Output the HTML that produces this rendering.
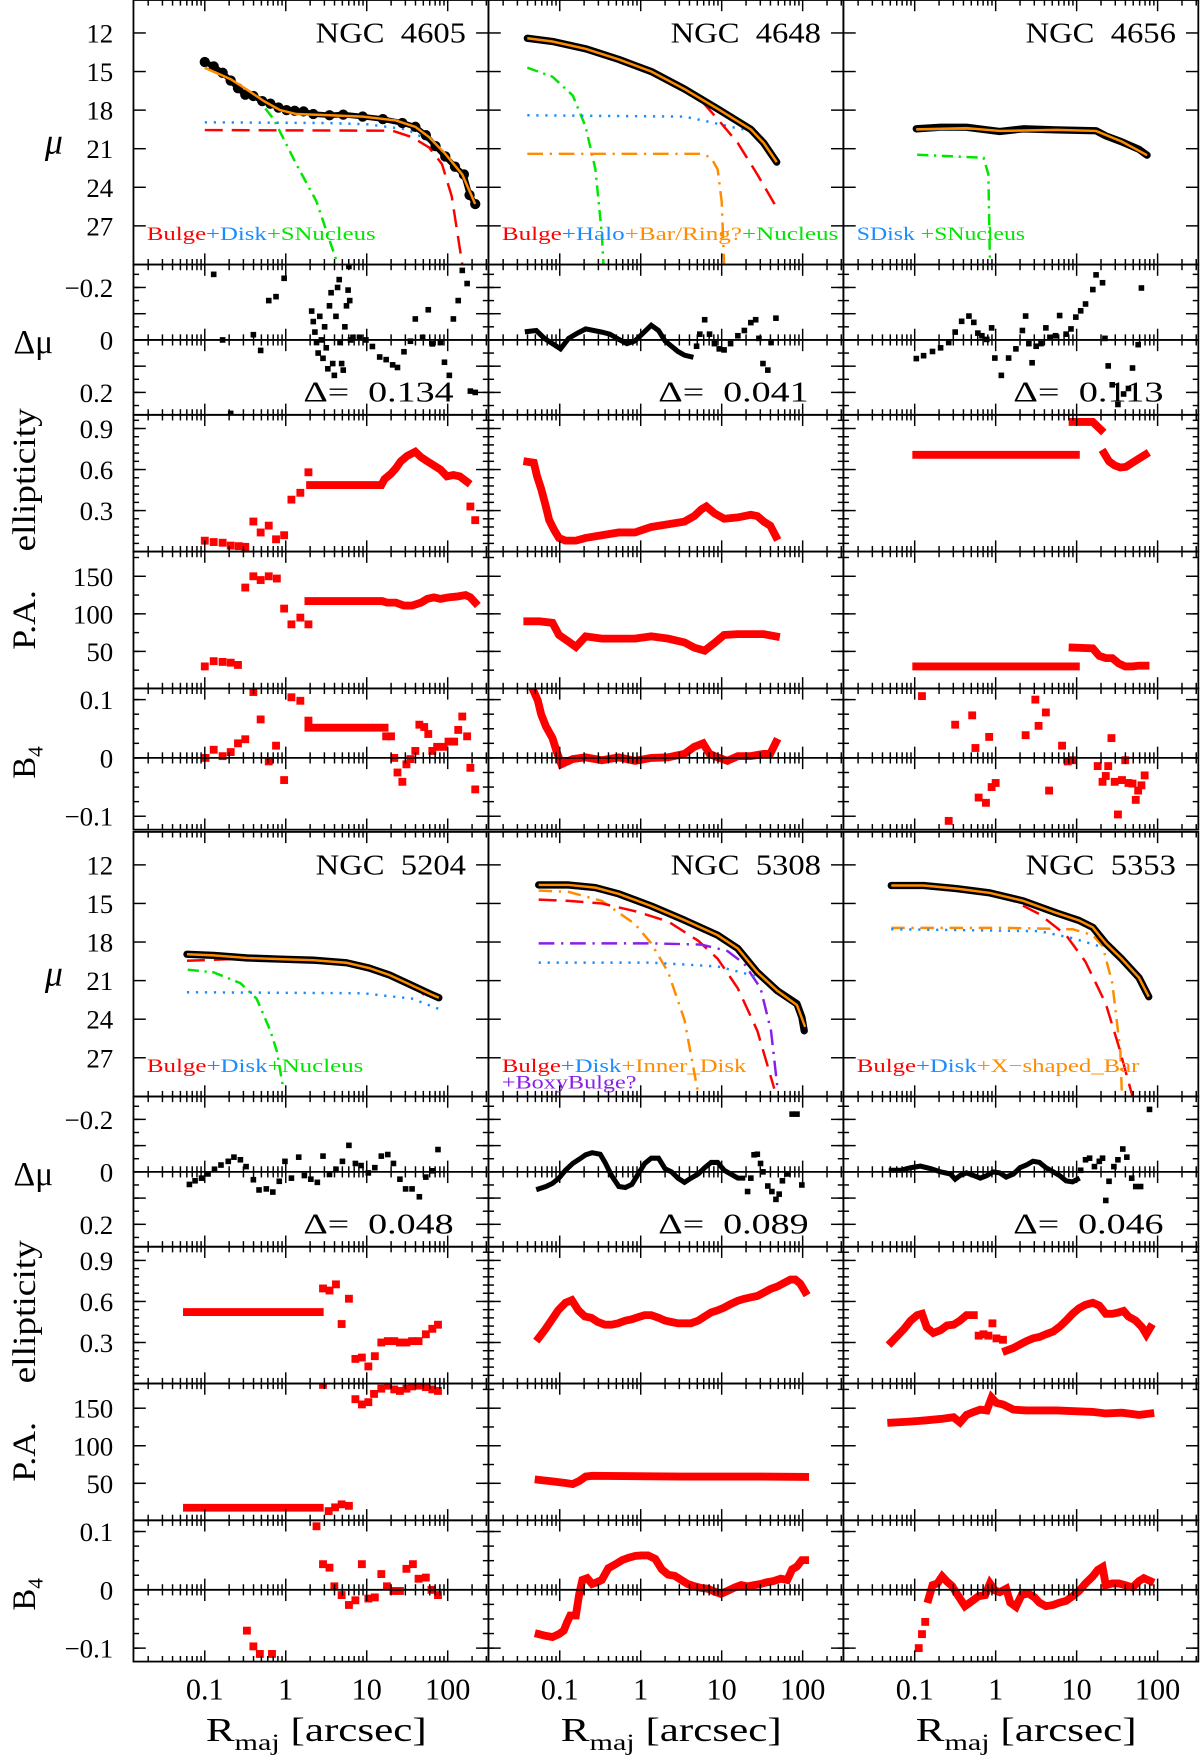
<!DOCTYPE html>
<html><head><meta charset="utf-8"><style>
html,body{margin:0;padding:0;background:#fff}
svg{display:block}
text{font-family:"Liberation Serif",serif;fill:#000}
</style></head><body>
<svg id="fig" xmlns="http://www.w3.org/2000/svg" width="1200" height="1758" viewBox="0 0 1070 1568" preserveAspectRatio="none"></svg>
<script>
// ---------- tick labels ----------
const muTicks=[12,15,18,21,24,27];
const dmuTicks=[-0.2,0,0.2];
const ellTicks=[0.3,0.6,0.9];
const paTicks=[50,100,150];
const b4Ticks=[-0.1,0,0.1];
const xTickLabels=["0.1","1","10","100"];
const xTickLogs=[-1,0,1,2];
const galaxyNames=["NGC 4605","NGC 4648","NGC 4656","NGC 5204","NGC 5308","NGC 5353"];
const deltaValues=["0.134","0.041","0.113","0.048","0.089","0.046"];

// ---------- data: [log10 R, value] ----------
const g1Mu=[[-1,14.26],[-0.89,14.6],[-0.78,15.1],[-0.68,15.7],[-0.59,16.3],[-0.5,16.8],[-0.4,16.9],[-0.29,17.3],[-0.19,17.5],[-0.09,17.8],[0.01,18.0],[0.11,18.05],[0.22,18.1],[0.34,18.3],[0.54,18.4],[0.71,18.35],[0.95,18.5],[1.2,18.7],[1.44,19.0],[1.6,19.3],[1.73,19.95],[1.85,20.8],[1.97,21.6],[2.09,22.4],[2.2,23.0],[2.27,24.6],[2.34,25.3]];
const g1Fit=[[-1,14.7],[-0.68,15.6],[-0.48,16.4],[-0.27,17.3],[-0.07,18.0],[0.13,18.3],[0.54,18.4],[0.95,18.5],[1.36,18.8],[1.6,19.3],[1.77,20.1],[1.97,21.4],[2.18,23.0],[2.34,25.3]];
const g1Disk=[[-1,18.95],[0.5,19.0],[1.0,19.1],[1.5,19.5],[1.8,20.5],[2.0,21.6],[2.2,22.9]];
const g1Bulge=[[-1,19.55],[1.32,19.6],[1.56,20.1],[1.77,20.9],[1.93,22.2],[2.05,24.7],[2.18,30]];
const g1Nuc=[[-1,14.7],[-0.68,15.6],[-0.35,17.1],[-0.15,18.7],[0.13,22.2],[0.38,25.1],[0.62,29.6]];
const g1Dmu=[[-0.89,-0.25],[-0.78,0.0],[-0.4,-0.02],[-0.31,0.04],[-0.21,-0.15],[-0.12,-0.165],[-0.02,-0.235],[-0.68,0.28],[0.32,-0.11],[0.34,-0.07],[0.36,-0.03],[0.38,0.01],[0.4,0.05],[0.42,-0.09],[0.44,0],[0.46,0.07],[0.48,-0.05],[0.5,0.03],[0.52,0.11],[0.54,-0.13],[0.56,-0.18],[0.58,0.09],[0.6,0.135],[0.62,-0.09],[0.64,-0.2],[0.66,-0.23],[0.67,0.01],[0.69,0.09],[0.71,0.115],[0.73,-0.05],[0.75,-0.13],[0.77,-0.19],[0.78,-0.28],[0.79,-0.15],[0.8,0],[0.83,-0.01],[0.91,-0.01],[0.99,0],[1.07,0.025],[1.16,0.065],[1.24,0.075],[1.32,0.095],[1.38,0.105],[1.46,0.045],[1.54,0.005],[1.6,-0.08],[1.69,-0.01],[1.76,-0.115],[1.81,0.015],[1.91,0.01],[1.96,0.085],[2.02,0.135],[2.07,-0.08],[2.13,-0.15],[2.18,-0.265],[2.24,-0.215],[2.28,0.195],[2.34,0.2]];
const g1EllPts=[[-1,0.08],[-0.89,0.07],[-0.78,0.065],[-0.68,0.044],[-0.58,0.04],[-0.5,0.035],[-0.4,0.22],[-0.31,0.14],[-0.21,0.19],[-0.12,0.09],[-0.02,0.12],[0.07,0.38],[0.18,0.43],[0.28,0.58],[2.28,0.33],[2.34,0.23]];
const g1EllLine=[[0.3,0.487],[1.18,0.487],[1.22,0.53],[1.3,0.57],[1.36,0.61],[1.42,0.66],[1.5,0.70],[1.6,0.73],[1.67,0.69],[1.75,0.66],[1.83,0.63],[1.91,0.60],[1.99,0.55],[2.07,0.56],[2.15,0.55],[2.24,0.51]];
const g1PaPts=[[-1,30],[-0.89,37],[-0.78,36],[-0.68,35],[-0.59,32],[-0.5,135],[-0.4,150],[-0.31,145],[-0.21,150],[-0.11,147],[-0.02,107],[0.07,86],[0.18,95],[0.28,86]];
const g1PaLine=[[0.28,117],[1.19,117],[1.25,115],[1.36,115],[1.46,111],[1.56,111],[1.67,115],[1.75,120],[1.83,122],[1.91,120],[2.01,122],[2.11,123],[2.22,125],[2.28,122],[2.34,115]];
const g1B4Pts=[[-0.99,0],[-0.89,0.014],[-0.78,0.003],[-0.68,0.01],[-0.59,0.025],[-0.5,0.032],[-0.4,0.113],[-0.31,0.066],[-0.21,-0.006],[-0.12,0.021],[-0.02,-0.038],[0.07,0.104],[0.18,0.098],[0.28,0.064],[1.24,0.037],[1.3,0.037],[1.34,0],[1.38,-0.025],[1.44,-0.041],[1.49,-0.011],[1.54,-0.002],[1.6,0.012],[1.65,0.057],[1.71,0.053],[1.76,0.041],[1.81,0.012],[1.87,0.019],[1.95,0.019],[2.01,0.028],[2.08,0.028],[2.13,0.048],[2.18,0.071],[2.24,0.037],[2.28,-0.017],[2.34,-0.054]];
const g1B4Line=[[0.28,0.052],[1.22,0.052]];

const g2Mu=[[-1.4,12.41],[-1.09,12.66],[-0.68,13.23],[-0.27,14.06],[0.13,15.0],[0.54,16.36],[0.95,17.9],[1.36,19.5],[1.52,20.56],[1.68,22.04]];
const g2Bulge=[[-1.4,12.45],[-0.68,13.25],[0.13,15.0],[0.71,17.0],[0.95,18.7],[1.2,20.56],[1.44,23.0],[1.68,25.6]];
const g2Halo=[[-1.4,18.4],[0.54,18.5],[0.91,19.0],[1.11,19.3],[1.36,19.6]];
const g2Bar=[[-1.4,21.4],[0.75,21.4],[0.87,21.7],[0.95,22.6],[1.0,25.1],[1.03,30]];
const g2Nuc=[[-1.4,14.7],[-1.09,15.4],[-0.84,16.86],[-0.68,19.3],[-0.56,22.6],[-0.48,27.6],[-0.46,30]];
const g2DmuLine=[[-1.4,-0.032],[-1.29,-0.036],[-1.19,-0.006],[-1.09,0.014],[-0.99,0.034],[-0.89,-0.006],[-0.78,-0.026],[-0.68,-0.042],[-0.58,-0.036],[-0.48,-0.03],[-0.38,-0.022],[-0.27,-0.002],[-0.17,0.014],[-0.07,0.004],[0.03,-0.026],[0.13,-0.056],[0.22,-0.036],[0.3,0.004],[0.38,0.024],[0.46,0.044],[0.54,0.058],[0.62,0.064]];
const g2DmuPts=[[0.69,0.024],[0.73,-0.022],[0.79,-0.077],[0.85,-0.022],[0.91,0.014],[0.97,0.034],[1.03,0.038],[1.11,0.014],[1.2,-0.016],[1.28,-0.036],[1.36,-0.066],[1.42,-0.077],[1.46,-0.006],[1.51,0.09],[1.57,0.115],[1.61,0.01],[1.67,-0.083]];
const g2EllLine=[[-1.4,0.657],[-1.32,0.65],[-1.28,0.55],[-1.23,0.46],[-1.18,0.35],[-1.13,0.23],[-1.07,0.16],[-1.01,0.10],[-0.93,0.08],[-0.8,0.08],[-0.68,0.1],[-0.48,0.12],[-0.27,0.14],[-0.07,0.14],[0.13,0.18],[0.34,0.2],[0.54,0.22],[0.66,0.26],[0.75,0.31],[0.81,0.33],[0.91,0.28],[1.03,0.24],[1.2,0.25],[1.36,0.27],[1.44,0.26],[1.52,0.22],[1.6,0.19],[1.67,0.11]];
const g2PaLine=[[-1.4,90],[-1.25,90],[-1.09,88],[-1.01,72],[-0.89,63],[-0.8,56],[-0.68,70],[-0.48,67],[-0.27,67],[-0.07,67],[0.13,70],[0.34,67],[0.54,62],[0.66,55],[0.79,51],[0.91,61],[1.03,72],[1.2,73],[1.36,73],[1.52,73],[1.67,70]];
const g2B4Line=[[-1.34,0.12],[-1.27,0.098],[-1.23,0.075],[-1.17,0.054],[-1.09,0.034],[-1.04,0.012],[-0.98,-0.011],[-0.84,-0.002],[-0.68,0.001],[-0.48,-0.004],[-0.27,0.001],[-0.07,-0.005],[0.13,0],[0.34,0.001],[0.54,0.007],[0.66,0.019],[0.77,0.025],[0.85,0.007],[0.95,0.001],[1.07,-0.005],[1.2,0.003],[1.36,0.003],[1.52,0.007],[1.6,0.007],[1.67,0.027]];

const g3Mu=[[-0.98,19.45],[-0.68,19.33],[-0.36,19.33],[0.05,19.66],[0.34,19.45],[0.75,19.53],[1.24,19.6],[1.36,20.0],[1.56,20.47],[1.77,21.05],[1.87,21.5]];
const g3Fit=[[-0.98,19.5],[-0.36,19.4],[0.05,19.62],[0.75,19.53],[1.24,19.62],[1.56,20.45],[1.87,21.5]];
const g3SDisk=[[-0.98,19.5],[-0.27,19.45]];
const g3Nuc=[[-0.97,21.47],[-0.15,21.7],[-0.09,23.0],[-0.07,30]];
const g3Dmu=[[-0.98,0.071],[-0.89,0.06],[-0.78,0.044],[-0.68,0.03],[-0.58,0.01],[-0.5,-0.03],[-0.42,-0.071],[-0.33,-0.091],[-0.27,-0.067],[-0.22,-0.026],[-0.17,-0.016],[-0.11,-0.002],[-0.05,-0.046],[-0.01,0.069],[0.07,0.135],[0.16,0.069],[0.25,0.034],[0.33,-0.036],[0.37,-0.091],[0.41,0.014],[0.45,0.087],[0.5,0.024],[0.56,0.014],[0.62,-0.046],[0.67,-0.01],[0.74,-0.016],[0.79,-0.093],[0.87,-0.022],[0.93,-0.042],[0.99,-0.087],[1.05,-0.111],[1.11,-0.137],[1.2,-0.192],[1.24,-0.248],[1.32,-0.218],[1.35,-0.006],[1.39,0.099],[1.44,0.171],[1.51,0.246],[1.58,0.206],[1.64,0.185],[1.69,0.107],[1.76,0.018],[1.8,-0.198]];
const g3EllLineA=[[-0.98,0.707],[0.99,0.707]];
const g3EllLineB=[[0.95,0.948],[1.2,0.948],[1.3,0.89]];
const g3EllLineC=[[1.34,0.72],[1.4,0.66],[1.47,0.63],[1.54,0.615],[1.61,0.62],[1.69,0.65],[1.77,0.68],[1.85,0.71]];
const g3PaLineA=[[-0.98,30],[0.99,30]];
const g3PaLineB=[[0.95,55],[1.2,54],[1.28,44],[1.36,41],[1.44,41],[1.52,34],[1.6,30],[1.69,30],[1.77,31],[1.85,31]];
const g3B4Pts=[[-0.91,0.106],[-0.5,0.057],[-0.29,0.073],[-0.25,0.017],[-0.21,-0.068],[-0.12,-0.077],[-0.08,0.036],[-0.05,-0.05],[0,-0.043],[-0.58,-0.108],[0.37,0.039],[0.49,0.1],[0.53,0.055],[0.62,0.078],[0.66,-0.056],[0.82,0.021],[0.89,-0.006],[0.95,-0.004],[1.26,-0.014],[1.32,-0.041],[1.36,-0.031],[1.39,-0.014],[1.43,0.034],[1.47,-0.041],[1.51,-0.097],[1.56,-0.038],[1.6,-0.004],[1.64,-0.043],[1.69,-0.044],[1.73,-0.072],[1.76,-0.056],[1.8,-0.047],[1.84,-0.03]];

const g4Mu=[[-1.22,18.95],[-0.89,19.04],[-0.48,19.24],[-0.07,19.33],[0.34,19.41],[0.75,19.61],[1.03,20.02],[1.28,20.56],[1.52,21.26],[1.77,22.0],[1.89,22.33]];
const g4Bulge=[[-1.22,19.45],[-0.68,19.33],[0.13,19.45],[0.95,19.86],[1.36,20.56],[1.71,22.1]];
const g4Disk=[[-1.22,21.9],[0.95,21.98],[1.56,22.4],[1.89,23.2]];
const g4Nuc=[[-1.21,20.15],[-0.89,20.36],[-0.56,21.2],[-0.36,22.4],[-0.19,24.9],[-0.11,26.5],[-0.03,29.4]];
const g4Dmu=[[-1.19,0.048],[-1.12,0.034],[-1.04,0.024],[-0.96,0.008],[-0.88,-0.01],[-0.8,-0.026],[-0.71,-0.04],[-0.64,-0.056],[-0.56,-0.046],[-0.49,-0.02],[-0.4,0.03],[-0.33,0.069],[-0.24,0.065],[-0.16,0.077],[-0.08,0.036],[-0.01,-0.04],[0.07,0.024],[0.16,-0.056],[0.23,0.014],[0.31,0.028],[0.39,0.04],[0.46,-0.06],[0.54,0.01],[0.62,-0.01],[0.7,-0.04],[0.78,-0.101],[0.86,-0.032],[0.93,-0.024],[1.02,0.004],[1.1,-0.016],[1.18,-0.06],[1.26,-0.066],[1.33,-0.032],[1.41,0.028],[1.48,0.065],[1.56,0.065],[1.65,0.095],[1.73,0.02],[1.81,-0.004],[1.88,-0.085]];
const g4EllLine=[[-1.22,0.522],[0.42,0.522]];
const g4EllPts=[[0.46,0.695],[0.54,0.68],[0.62,0.725],[0.69,0.435],[0.78,0.62],[0.86,0.18],[0.94,0.19],[1.02,0.125],[1.1,0.2],[1.18,0.3],[1.26,0.31],[1.34,0.31],[1.41,0.3],[1.49,0.3],[1.56,0.31],[1.64,0.31],[1.73,0.36],[1.81,0.4],[1.88,0.43]];
const g4PaLine=[[-1.22,17.5],[0.42,17.5]];
const g4PaPts=[[0.46,181],[0.53,13],[0.61,18],[0.69,22],[0.78,20],[0.86,162],[0.94,155],[1.02,158],[1.09,169],[1.18,176],[1.26,180],[1.34,175],[1.41,173],[1.49,176],[1.56,179],[1.64,180],[1.73,178],[1.81,175],[1.88,173]];
const g4B4Pts=[[0.38,0.109],[-0.48,-0.07],[-0.4,-0.097],[-0.32,-0.11],[-0.17,-0.11],[0.46,0.044],[0.54,0.038],[0.6,0.006],[0.69,-0.009],[0.78,-0.026],[0.86,-0.018],[0.94,0.044],[1.02,-0.015],[1.1,-0.013],[1.18,0.027],[1.25,0.006],[1.33,-0.002],[1.41,-0.002],[1.49,0.036],[1.57,0.044],[1.64,0.019],[1.73,0.021],[1.8,0],[1.88,-0.009]];

const g5Mu=[[-1.26,13.56],[-0.89,13.56],[-0.56,13.77],[-0.27,14.26],[0.13,15.2],[0.54,16.3],[0.95,17.47],[1.2,18.5],[1.44,20.35],[1.69,21.8],[1.93,22.8],[1.99,23.85],[2.02,24.9]];
const g5Fit=[[-1.26,13.56],[-0.89,13.56],[-0.56,13.77],[-0.27,14.26],[0.13,15.2],[0.54,16.3],[0.95,17.47],[1.2,18.5],[1.44,20.35],[1.69,21.8],[1.93,22.9],[2.03,24.6]];
const g5Bulge=[[-1.26,14.7],[-0.89,14.8],[-0.48,15.0],[-0.07,15.6],[0.34,16.4],[0.71,17.9],[0.95,19.3],[1.2,21.6],[1.44,24.9],[1.65,29.4]];
const g5Inner=[[-1.26,14.0],[-0.89,14.1],[-0.48,14.8],[-0.07,16.6],[0.13,18.1],[0.34,20.35],[0.54,24.05],[0.71,29.8]];
const g5Boxy=[[-1.26,18.1],[0.13,18.1],[0.75,18.2],[1.07,18.7],[1.28,19.7],[1.48,21.6],[1.61,24.9],[1.69,29.4]];
const g5Disk=[[-1.26,19.6],[0.13,19.6],[0.95,19.9],[1.36,20.55],[1.48,20.85]];
const g5DmuLine=[[-1.26,0.065],[-1.17,0.056],[-1.09,0.044],[-1.01,0.024],[-0.93,-0.006],[-0.84,-0.032],[-0.76,-0.048],[-0.68,-0.065],[-0.6,-0.073],[-0.5,-0.067],[-0.44,-0.036],[-0.36,0.014],[-0.27,0.056],[-0.19,0.06],[-0.11,0.048],[-0.03,0.008],[0.05,-0.032],[0.13,-0.052],[0.22,-0.052],[0.3,-0.012],[0.38,0],[0.46,0.024],[0.54,0.04],[0.62,0.024],[0.71,0.008],[0.79,-0.016],[0.87,-0.036],[0.95,-0.036],[1.03,-0.006],[1.11,0.008],[1.2,0.024],[1.26,0.024]];
const g5DmuPts=[[1.32,0.075],[1.36,0.024],[1.4,-0.065],[1.44,-0.067],[1.48,-0.032],[1.51,0],[1.57,0.054],[1.62,0.075],[1.67,0.105],[1.71,0.085],[1.75,0.034],[1.81,0.008],[1.87,-0.22],[1.93,-0.22],[1.99,0.05]];
const g5EllLine=[[-1.26,0.333],[-1.18,0.395],[-1.1,0.465],[-1.02,0.535],[-0.93,0.59],[-0.85,0.61],[-0.77,0.535],[-0.69,0.49],[-0.61,0.48],[-0.53,0.45],[-0.44,0.43],[-0.36,0.43],[-0.28,0.44],[-0.19,0.46],[-0.11,0.47],[-0.03,0.485],[0.05,0.5],[0.13,0.5],[0.22,0.48],[0.3,0.46],[0.38,0.45],[0.46,0.44],[0.54,0.44],[0.62,0.44],[0.71,0.46],[0.79,0.49],[0.87,0.52],[0.95,0.535],[1.03,0.555],[1.11,0.58],[1.2,0.605],[1.28,0.62],[1.36,0.63],[1.44,0.64],[1.52,0.665],[1.6,0.69],[1.69,0.71],[1.77,0.735],[1.85,0.76],[1.91,0.76],[1.97,0.73],[2.03,0.67]];
const g5PaLine=[[-1.26,54.7],[-1.09,52.6],[-0.93,50.5],[-0.84,49],[-0.76,53],[-0.68,59],[-0.6,60],[0.5,59],[1.5,59],[2.03,58.5]];
const g5B4Line=[[-1.26,-0.076],[-1.17,-0.079],[-1.09,-0.081],[-1.01,-0.076],[-0.95,-0.07],[-0.91,-0.056],[-0.87,-0.044],[-0.8,-0.044],[-0.76,-0.008],[-0.72,0.017],[-0.66,0.02],[-0.6,0.01],[-0.54,0.013],[-0.48,0.017],[-0.4,0.037],[-0.31,0.044],[-0.23,0.051],[-0.15,0.055],[-0.07,0.058],[0.01,0.059],[0.09,0.059],[0.18,0.053],[0.26,0.035],[0.34,0.026],[0.42,0.024],[0.5,0.017],[0.58,0.01],[0.67,0.006],[0.75,0.003],[0.83,0.002],[0.91,-0.003],[0.99,-0.007],[1.07,-0.002],[1.16,0.004],[1.24,0.008],[1.32,0.006],[1.4,0.008],[1.48,0.01],[1.56,0.013],[1.64,0.015],[1.73,0.019],[1.81,0.017],[1.87,0.035],[1.93,0.04],[1.99,0.051],[2.03,0.051]];

const g6Mu=[[-1.29,13.6],[-0.89,13.6],[-0.48,13.85],[-0.07,14.18],[0.34,14.8],[0.75,15.74],[1.03,16.32],[1.2,16.86],[1.36,18.1],[1.56,19.33],[1.77,20.77],[1.89,22.25]];
const g6Bulge=[[-1.29,13.6],[-0.27,13.98],[0.13,14.51],[0.54,15.83],[0.87,17.47],[1.11,19.53],[1.36,22.8],[1.52,26.1],[1.69,30]];
const g6Bar=[[-1.29,16.9],[0.13,16.9],[0.95,17.0],[1.2,17.47],[1.32,18.3],[1.44,21.2],[1.54,26.5],[1.56,30]];
const g6Disk=[[-1.29,17.0],[0.54,17.15],[0.95,17.7],[1.32,18.4]];
const g6DmuLine=[[-1.29,-0.006],[-1.17,-0.006],[-1.05,-0.016],[-0.93,-0.022],[-0.8,-0.012],[-0.68,0],[-0.56,0.008],[-0.5,0.028],[-0.44,0.014],[-0.36,0.004],[-0.27,0.014],[-0.19,0.024],[-0.11,0.014],[-0.03,0],[0.05,0.004],[0.13,0.02],[0.22,0.008],[0.3,-0.016],[0.38,-0.026],[0.46,-0.04],[0.54,-0.036],[0.62,-0.016],[0.71,0],[0.79,0.014],[0.87,0.034],[0.95,0.038],[1.01,0.028]];
const g6DmuPts=[[1.05,-0.006],[1.11,-0.046],[1.16,-0.052],[1.22,-0.02],[1.28,-0.04],[1.32,-0.052],[1.36,0.109],[1.4,0.036],[1.46,-0.02],[1.51,-0.046],[1.57,-0.087],[1.62,-0.056],[1.68,0.024],[1.73,0.056],[1.79,0.056],[1.9,-0.238]];
const g6EllLineA=[[-1.29,0.302],[-1.21,0.35],[-1.13,0.4],[-1.05,0.46],[-0.97,0.5],[-0.91,0.51],[-0.85,0.41],[-0.77,0.37],[-0.68,0.39],[-0.6,0.425],[-0.52,0.43],[-0.44,0.46],[-0.36,0.5],[-0.27,0.5]];
const g6EllPts=[[-0.21,0.35],[-0.15,0.36],[-0.09,0.35],[-0.04,0.44],[0.01,0.33],[0.09,0.32]];
const g6EllLineB=[[0.13,0.24],[0.22,0.26],[0.3,0.285],[0.38,0.31],[0.46,0.33],[0.54,0.34],[0.62,0.36],[0.71,0.38],[0.79,0.415],[0.87,0.46],[0.95,0.51],[1.03,0.55],[1.11,0.575],[1.2,0.59],[1.28,0.57],[1.36,0.51],[1.44,0.51],[1.52,0.52],[1.58,0.53],[1.64,0.49],[1.73,0.46],[1.81,0.41],[1.86,0.36],[1.91,0.41]];
const g6PaLine=[[-1.29,130.8],[-1.09,132],[-0.89,133.6],[-0.68,135.7],[-0.52,137.9],[-0.44,131],[-0.36,141],[-0.27,145],[-0.19,148],[-0.11,147],[-0.05,164],[0.01,157],[0.09,155],[0.22,148],[0.38,147],[0.75,147],[1.2,145],[1.36,143],[1.56,144],[1.77,141],[1.91,143]];
const g6B4Pts=[[-0.95,-0.1],[-0.91,-0.076],[-0.87,-0.055]];
const g6B4Line=[[-0.83,-0.016],[-0.78,0.008],[-0.72,0.011],[-0.66,0.023],[-0.6,0.014],[-0.54,0.007],[-0.46,-0.011],[-0.38,-0.028],[-0.29,-0.019],[-0.21,-0.011],[-0.13,-0.009],[-0.07,0.011],[-0.01,-0.001],[0.05,-0.004],[0.13,0.002],[0.18,-0.022],[0.25,-0.029],[0.32,-0.009],[0.4,-0.006],[0.48,-0.013],[0.54,-0.022],[0.62,-0.028],[0.71,-0.026],[0.79,-0.022],[0.87,-0.019],[0.95,-0.011],[1.03,-0.002],[1.11,0.011],[1.2,0.023],[1.26,0.034],[1.32,0.039],[1.36,0.008],[1.44,0.011],[1.52,0.011],[1.6,0.008],[1.69,0.004],[1.77,0.015],[1.83,0.02],[1.91,0.015]];

// ---------- layout (viewBox units) ----------
const NS="http://www.w3.org/2000/svg";
const svg=document.getElementById('fig');
const COLX=[119,435.5,752];
const COLW=316.5;
const BLOCKY=[0,742];
const ROWS={mu:[0,236],dmu:[236,370],ell:[370,492],pa:[492,614],b4:[614,740]};
const LRMIN=-1.88, LRMAX=2.51;
function xOf(c,lr){return COLX[c]+63.6+72.2*(lr+1);}
function yOf(b,p,v){
  const o=BLOCKY[b];
  if(p==='mu')return o+29.4+(v-12)*11.47;
  if(p==='dmu')return o+303.2+v*234;
  if(p==='ell')return o+492-v*122;
  if(p==='pa')return o+614.5-v*0.67;
  return o+676-v*520;
}
function el(tag,attrs,parent){const e=document.createElementNS(NS,tag);for(const k in attrs)e.setAttribute(k,attrs[k]);(parent||svg).appendChild(e);return e;}

const COLORS={red:"#ff0000",blue:"#1a8cff",orange:"#ff8c00",green:"#00e600",purple:"#8a1ee6",black:"#000"};

const defs=el('defs',{});
for(let b=0;b<2;b++)for(let c=0;c<3;c++)for(const p in ROWS){
  const cp=el('clipPath',{id:`clip-${b}-${c}-${p}`},defs);
  el('rect',{x:COLX[c],y:BLOCKY[b]+ROWS[p][0],width:COLW,height:ROWS[p][1]-ROWS[p][0]},cp);
}

const series=[
 [0,0,'mu',g1Nuc,'curve','green','10,5,2,5','nucleus-component'],
 [0,0,'mu',g1Bulge,'curve','red','16,8','bulge-component'],
 [0,0,'mu',g1Disk,'curve','blue','2,6','disk-component'],
 [0,0,'mu',g1Mu,'data','black',null,'surface-brightness-data'],
 [0,0,'mu',g1Fit,'curve','orange',null,'total-fit'],
 [0,0,'dmu',g1Dmu,'bpts','black',null,'residual-points'],
 [0,0,'ell',g1EllPts,'rpts','red',null,'ellipticity-points'],
 [0,0,'ell',g1EllLine,'rline','red',null,'ellipticity-profile'],
 [0,0,'pa',g1PaPts,'rpts','red',null,'pa-points'],
 [0,0,'pa',g1PaLine,'rline','red',null,'pa-profile'],
 [0,0,'b4',g1B4Pts,'rpts','red',null,'b4-points'],
 [0,0,'b4',g1B4Line,'rline','red',null,'b4-profile'],

 [0,1,'mu',g2Nuc,'curve','green','10,5,2,5','nucleus-component'],
 [0,1,'mu',g2Bar,'curve','orange','14,6,2,6','bar-ring-component'],
 [0,1,'mu',g2Halo,'curve','blue','2,6','halo-component'],
 [0,1,'mu',g2Bulge,'curve','red','16,8','bulge-component'],
 [0,1,'mu',g2Mu,'dataline','black',null,'surface-brightness-data'],
 [0,1,'mu',g2Mu,'curve','orange',null,'total-fit'],
 [0,1,'dmu',g2DmuLine,'bline','black',null,'residual-profile'],
 [0,1,'dmu',g2DmuPts,'bpts','black',null,'residual-points'],
 [0,1,'ell',g2EllLine,'rline','red',null,'ellipticity-profile'],
 [0,1,'pa',g2PaLine,'rline','red',null,'pa-profile'],
 [0,1,'b4',g2B4Line,'rline','red',null,'b4-profile'],

 [0,2,'mu',g3Nuc,'curve','green','10,5,2,5','nucleus-component'],
 [0,2,'mu',g3Mu,'dataline','black',null,'surface-brightness-data'],
 [0,2,'mu',g3SDisk,'curve','blue',null,'sdisk-component'],
 [0,2,'mu',g3Fit,'curve','orange',null,'total-fit'],
 [0,2,'dmu',g3Dmu,'bpts','black',null,'residual-points'],
 [0,2,'ell',g3EllLineA,'rline','red',null,'ellipticity-profile-inner'],
 [0,2,'ell',g3EllLineB,'rline','red',null,'ellipticity-profile-mid'],
 [0,2,'ell',g3EllLineC,'rline','red',null,'ellipticity-profile-outer'],
 [0,2,'pa',g3PaLineA,'rline','red',null,'pa-profile-inner'],
 [0,2,'pa',g3PaLineB,'rline','red',null,'pa-profile-outer'],
 [0,2,'b4',g3B4Pts,'rpts','red',null,'b4-points'],

 [1,0,'mu',g4Nuc,'curve','green','10,5,2,5','nucleus-component'],
 [1,0,'mu',g4Disk,'curve','blue','2,6','disk-component'],
 [1,0,'mu',g4Bulge,'curve','red','16,8','bulge-component'],
 [1,0,'mu',g4Mu,'dataline','black',null,'surface-brightness-data'],
 [1,0,'mu',g4Mu,'curve','orange',null,'total-fit'],
 [1,0,'dmu',g4Dmu,'bpts','black',null,'residual-points'],
 [1,0,'ell',g4EllLine,'rline','red',null,'ellipticity-profile'],
 [1,0,'ell',g4EllPts,'rpts','red',null,'ellipticity-points'],
 [1,0,'pa',g4PaLine,'rline','red',null,'pa-profile'],
 [1,0,'pa',g4PaPts,'rpts','red',null,'pa-points'],
 [1,0,'b4',g4B4Pts,'rpts','red',null,'b4-points'],

 [1,1,'mu',g5Inner,'curve','orange','12,6,2,6','inner-disk-component'],
 [1,1,'mu',g5Bulge,'curve','red','16,8','bulge-component'],
 [1,1,'mu',g5Boxy,'curve','purple','14,6,2,6','boxy-bulge-component'],
 [1,1,'mu',g5Disk,'curve','blue','2,6','disk-component'],
 [1,1,'mu',g5Mu,'dataline','black',null,'surface-brightness-data'],
 [1,1,'mu',g5Fit,'curve','orange',null,'total-fit'],
 [1,1,'dmu',g5DmuLine,'bline','black',null,'residual-profile'],
 [1,1,'dmu',g5DmuPts,'bpts','black',null,'residual-points'],
 [1,1,'ell',g5EllLine,'rline','red',null,'ellipticity-profile'],
 [1,1,'pa',g5PaLine,'rline','red',null,'pa-profile'],
 [1,1,'b4',g5B4Line,'rline','red',null,'b4-profile'],

 [1,2,'mu',g6Bar,'curve','orange','12,6,2,6','x-bar-component'],
 [1,2,'mu',g6Bulge,'curve','red','16,8','bulge-component'],
 [1,2,'mu',g6Disk,'curve','blue','2,6','disk-component'],
 [1,2,'mu',g6Mu,'dataline','black',null,'surface-brightness-data'],
 [1,2,'mu',g6Mu,'curve','orange',null,'total-fit'],
 [1,2,'dmu',g6DmuLine,'bline','black',null,'residual-profile'],
 [1,2,'dmu',g6DmuPts,'bpts','black',null,'residual-points'],
 [1,2,'ell',g6EllLineA,'rline','red',null,'ellipticity-profile-inner'],
 [1,2,'ell',g6EllPts,'rpts','red',null,'ellipticity-points'],
 [1,2,'ell',g6EllLineB,'rline','red',null,'ellipticity-profile-outer'],
 [1,2,'pa',g6PaLine,'rline','red',null,'pa-profile'],
 [1,2,'b4',g6B4Pts,'rpts','red',null,'b4-points'],
 [1,2,'b4',g6B4Line,'rline','red',null,'b4-profile']
];

for(const s of series){
  const [b,c,p,data,kind,color,dash,name]=s;
  const g=el('g',{'clip-path':`url(#clip-${b}-${c}-${p})`});
  
  
  const pts=data.map(d=>[xOf(c,d[0]),yOf(b,p,d[1])]);
  const ptsStr=pts.map(q=>q[0].toFixed(1)+','+q[1].toFixed(1)).join(' ');
  if(kind==='curve'){
    const a={points:ptsStr,fill:'none',stroke:COLORS[color],'stroke-width':2.2};
    if(dash)a['stroke-dasharray']=dash;
    const l=el('polyline',a,g);
    
    
  } else if(kind==='data'||kind==='dataline'){
    const l=el('polyline',{points:ptsStr,fill:'none',stroke:'#000','stroke-width':kind==='data'?5:6.5,'stroke-linejoin':'round','stroke-linecap':'round'},g);
    
    
    if(kind==='data'){
      for(const q of pts){
        const m=el('circle',{cx:q[0],cy:q[1],r:4.6,fill:'#000'},g);
        
        
      }
    }
  } else if(kind==='rline'||kind==='bline'){
    const w=kind==='rline'?7:4.5;
    const l=el('polyline',{points:ptsStr,fill:'none',stroke:COLORS[color],'stroke-width':w,'stroke-linejoin':'miter','stroke-linecap':'square'},g);
    
    
  } else {
    const sz=kind==='rpts'?7:5;
    for(const q of pts){
      const m=el('rect',{x:q[0]-sz/2,y:q[1]-sz/2,width:sz,height:sz,fill:COLORS[color]},g);
      
      
    }
  }
}

// ---------- frames and ticks ----------
const minorLogs=[];
for(let d=-2;d<=2;d++)for(let k=1;k<=9;k++){const v=d+Math.log10(k);if(v>LRMIN&&v<LRMAX)minorLogs.push([v,k===1]);}
const tickG=el('g',{});


function line(x1,y1,x2,y2,w){el('line',{x1,y1,x2,y2,stroke:'#000','stroke-width':w||1.3},tickG);}
const yMinor={mu:[1,0],dmu:[0.05,-0.3],ell:[0.06,0],pa:[25,0],b4:[0.025,-0.15]};
const yMajor={mu:muTicks,dmu:[-0.2,-0.1,0,0.1,0.2],ell:ellTicks,pa:paTicks,b4:b4Ticks};
for(let b=0;b<2;b++)for(let c=0;c<3;c++){
  const x0=COLX[c],x1=COLX[c]+COLW;
  for(const p in ROWS){
    const t=BLOCKY[b]+ROWS[p][0], bt=BLOCKY[b]+ROWS[p][1];
    el('rect',{x:x0,y:t,width:COLW,height:bt-t,fill:'none',stroke:'#000','stroke-width':1.6},tickG);
    for(const [v,maj] of minorLogs){
      const x=xOf(c,v),L=maj?10:5;
      line(x,t,x,t+L);line(x,bt,x,bt-L);
      if(p==='dmu'||p==='b4'){const z=yOf(b,p,0);line(x,z-L,x,z+L);}
    }
    if(p==='dmu'||p==='b4'){const z=yOf(b,p,0);line(x0,z,x1,z,1.6);}
    const [step,start]=yMinor[p];
    if(p!=='mu'){
      for(let v=start;v<=0.35+(p==='pa'?200:p==='ell'?1:0);v+=step){
        const y=yOf(b,p,v);
        if(y<=t+1||y>=bt-1)continue;
        line(x0,y,x0+5,y);line(x1,y,x1-5,y);
      }
    }
    for(const v of yMajor[p]){
      const y=yOf(b,p,v);
      if(y<=t+1||y>=bt-1)continue;
      line(x0,y,x0+11,y);line(x1,y,x1-11,y);
    }
  }
}

// ---------- text ----------
function txt(s,x,y,size,attrs,name){
  const a=Object.assign({x,y,'font-size':size},attrs||{});
  const t=el('text',a);
  t.textContent=s;
  
  
  return t;
}
function fmt(v){return v<0?'\u2212'+String(-v):String(v);}
for(let b=0;b<2;b++){
  const o=BLOCKY[b];
  for(const v of muTicks)txt(String(v),101,yOf(b,'mu',v)+8.5,24,{'text-anchor':'end'},'mu-tick-label');
  for(const v of dmuTicks)txt(fmt(v),101,yOf(b,'dmu',v)+8.5,24,{'text-anchor':'end'},'dmu-tick-label');
  for(const v of ellTicks)txt(String(v),101,yOf(b,'ell',v)+8.5,24,{'text-anchor':'end'},'ellipticity-tick-label');
  for(const v of paTicks)txt(String(v),101,yOf(b,'pa',v)+8.5,24,{'text-anchor':'end'},'pa-tick-label');
  for(const v of b4Ticks)txt(fmt(v),101,yOf(b,'b4',v)+8.5,24,{'text-anchor':'end'},'b4-tick-label');
  txt('\u03bc',40,o+137,32,{'font-style':'italic'},'mu-axis-title');
  txt('\u0394\u03bc',12,o+315,30,{},'dmu-axis-title');
  txt('ellipticity',0,0,29,{transform:`translate(31,${o+428}) rotate(-90) scale(1.15,1)`,'text-anchor':'middle'},'ellipticity-axis-title');
  txt('P.A.',0,0,29,{transform:`translate(31,${o+553}) rotate(-90) scale(1.1,1)`,'text-anchor':'middle'},'pa-axis-title');
  const b4t=txt('B',0,0,29,{transform:`translate(31,${o+680}) rotate(-90)`,'text-anchor':'middle'},'b4-axis-title');
  const sub=document.createElementNS(NS,'tspan');sub.setAttribute('font-size','19');sub.setAttribute('dy','7');sub.textContent='4';b4t.appendChild(sub);
  for(let c=0;c<3;c++){
    const gi=b*3+c;
    txt(galaxyNames[gi].replace(' ','\u00a0\u00a0'),COLX[c]+COLW-20,o+38,25,{'text-anchor':'end',textLength:134,lengthAdjust:'spacingAndGlyphs'},'galaxy-title');
    txt('\u0394=\u00a0\u00a0'+deltaValues[gi],COLX[c]+COLW-31,o+358,25,{'text-anchor':'end',textLength:134,lengthAdjust:'spacingAndGlyphs'},'rms-label');
  }
}
// legends: [block, col, parts, rendered width]
const legends=[
 [0,0,[['Bulge','red'],['+Disk','blue'],['+SNucleus','green']],204],
 [0,1,[['Bulge','red'],['+Halo','blue'],['+Bar/Ring?','orange'],['+Nucleus','green']],300],
 [0,2,[['SDisk','blue'],['\u00a0+SNucleus','green']],150],
 [1,0,[['Bulge','red'],['+Disk','blue'],['+Nucleus','green']],193],
 [1,1,[['Bulge','red'],['+Disk','blue'],['+Inner_Disk','orange']],218],
 [1,2,[['Bulge','red'],['+Disk','blue'],['+X\u2212shaped_Bar','orange']],252]
];
for(const [b,c,parts,w] of legends){
  const t=el('text',{x:COLX[c]+12,y:BLOCKY[b]+214,'font-size':17,textLength:w,lengthAdjust:'spacingAndGlyphs'});
  
  
  for(const [s,col] of parts){const sp=document.createElementNS(NS,'tspan');sp.setAttribute('fill',COLORS[col]);sp.style.fill=COLORS[col];sp.textContent=s;t.appendChild(sp);}
}
txt('+BoxyBulge?',COLX[1]+12,BLOCKY[1]+229,17,{fill:COLORS.purple,style:'fill:'+COLORS.purple,textLength:120,lengthAdjust:'spacingAndGlyphs'},'component-legend-line2');
// x axis labels
for(let c=0;c<3;c++){
  for(let i=0;i<xTickLabels.length;i++)txt(xTickLabels[i],xOf(c,xTickLogs[i]),1516,27,{'text-anchor':'middle'},'x-tick-label');
  const t=el('text',{x:0,y:0,'font-size':30,'text-anchor':'middle',transform:`translate(${COLX[c]+163},1553) scale(1.28,1)`});
  
  
  const a=document.createElementNS(NS,'tspan');a.textContent='R';t.appendChild(a);
  const s2=document.createElementNS(NS,'tspan');s2.setAttribute('font-size','21');s2.setAttribute('dy','8');s2.textContent='maj';t.appendChild(s2);
  const s3=document.createElementNS(NS,'tspan');s3.setAttribute('dy','-8');s3.textContent=' [arcsec]';t.appendChild(s3);
}
</script>
</body></html>
